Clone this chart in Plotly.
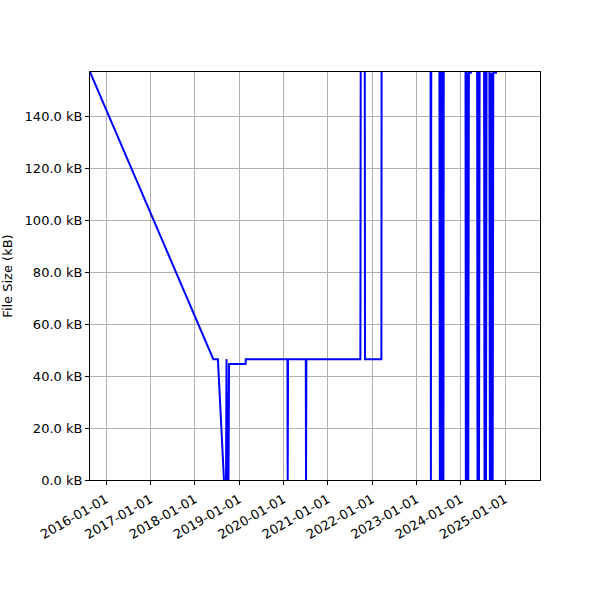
import plotly.graph_objects as go

# Data (dates, file sizes in kB)
dates = [
    "2015-08-22", "2018-06-03", "2018-07-11", "2018-08-30", "2018-09-16",
    "2018-09-20", "2018-09-28", "2018-10-06", "2018-10-11", "2019-02-24",
    "2019-02-26", "2020-02-04", "2020-02-06", "2020-02-09", "2020-07-04",
    "2020-07-06", "2020-07-09", "2021-09-27", "2021-09-30", "2021-11-02",
    "2021-11-04", "2022-03-19", "2022-03-21",
    "2023-04-28", "2023-05-01", "2023-05-04",
    "2023-07-10", "2023-07-14", "2023-07-19", "2023-07-24", "2023-07-29",
    "2023-08-03", "2023-08-08", "2023-08-12", "2023-08-15",
    "2024-02-10", "2024-02-13", "2024-02-18", "2024-02-23", "2024-02-28",
    "2024-03-04", "2024-03-09", "2024-03-25", "2024-03-27",
    "2024-05-16", "2024-05-19", "2024-05-25", "2024-05-31", "2024-06-06",
    "2024-07-12", "2024-07-16", "2024-07-22", "2024-07-28", "2024-08-02",
    "2024-08-25", "2024-08-29", "2024-09-04", "2024-09-10", "2024-09-16",
    "2024-09-21", "2024-09-26", "2024-10-27",
]
sizes_kb = [
    157.3, 46.6, 46.6, 0.0, 0.0,
    46.6, 0.0, 0.0, 44.7, 44.7,
    46.6, 46.6, 0.0, 46.6, 46.6,
    0.0, 46.6, 46.6, 170.0, 170.0,
    46.6, 46.6, 170.0,
    170.0, 0.0, 170.0,
    170.0, 0.0, 170.0, 0.0, 170.0,
    0.0, 170.0, 0.0, 170.0,
    170.0, 0.0, 170.0, 0.0, 157.0,
    0.0, 157.0, 157.0, 170.0,
    170.0, 0.0, 170.0, 0.0, 170.0,
    170.0, 0.0, 170.0, 0.0, 170.0,
    157.0, 0.0, 157.0, 0.0, 157.0,
    0.0, 157.0, 157.0,
]

x_range = ["2015-08-22", "2025-10-16"]
y_range = [0, 157.3]
y_ticks = [0, 20, 40, 60, 80, 100, 120, 140]
y_tick_labels = ["0.0 kB", "20.0 kB", "40.0 kB", "60.0 kB", "80.0 kB",
                 "100.0 kB", "120.0 kB", "140.0 kB"]

fig = go.Figure()
fig.add_trace(go.Scatter(
    x=dates, y=sizes_kb, mode="lines",
    line=dict(color="#0000ff", width=2),
    showlegend=False,
))

axis_common = dict(
    showline=True, linecolor="black", linewidth=1, mirror=True,
    ticks="outside", ticklen=4, tickcolor="black", tickwidth=1,
    showgrid=True, gridcolor="#b0b0b0", gridwidth=1,
    zeroline=False, automargin=False,
    tickfont=dict(family="DejaVu Sans", size=13, color="black"),
)

fig.update_layout(
    width=600, height=600,
    margin=dict(l=90, r=60, t=72, b=120),
    paper_bgcolor="white", plot_bgcolor="white",
    font=dict(family="DejaVu Sans", size=13, color="black"),
    xaxis=dict(
        range=x_range, type="date",
        tick0="2016-01-01", dtick="M12", tickformat="%Y-%m-%d",
        tickangle=-30, ticklabelstandoff=2,
        **axis_common,
    ),
    yaxis=dict(
        range=y_range, tickmode="array",
        tickvals=y_ticks, ticktext=y_tick_labels,
        title=dict(text="File Size (kB)",
                   font=dict(family="DejaVu Sans", size=13)),
        **axis_common,
    ),
)

fig.write_html("out.html", config={"displayModeBar": False},
               post_script="document.body.style.margin='0';")
